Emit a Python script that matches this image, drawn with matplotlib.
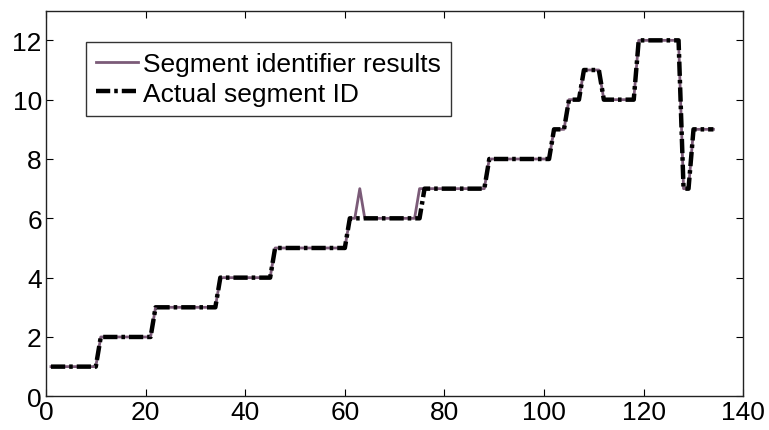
import numpy as np
import matplotlib
matplotlib.use('Agg')
import matplotlib.pyplot as plt

plt.rcParams['font.family'] = ['Liberation Sans', 'DejaVu Sans']

# sample index and segment IDs
sample = np.arange(1, 135)
actual_id = np.array(
    [1] * 10 + [2] * 11 + [3] * 13 + [4] * 11 + [5] * 15 + [6] * 15 +
    [7] * 13 + [8] * 13 + [9] * 3 + [10] * 3 + [11] * 4 + [10] * 7 +
    [12] * 9 + [7] * 2 + [9] * 5
)
identified_id = actual_id.copy()
identified_id[sample == 63] = 7
identified_id[sample == 75] = 7

fig = plt.figure(figsize=(7.69, 4.31), dpi=100)
ax = fig.add_axes([0.0598, 0.0782, 0.9068, 0.8947])

ax.plot(sample, identified_id, color='#7b5b78', linewidth=2.0,
        label='Segment identifier results')
ax.plot(sample, actual_id, color='black', linewidth=3.2,
        dashes=(3.2, 0.9, 0.8, 0.9), label='Actual segment ID')

ax.set_xlim(0, 140)
ax.set_ylim(0, 13)
ax.set_xticks(np.arange(0, 141, 20))
ax.set_yticks(np.arange(0, 13, 2))
ax.tick_params(direction='in', length=5, width=0.8, labelsize=19,
               top=True, right=True, pad=3)
for s in ax.spines.values():
    s.set_linewidth(1.0)
    s.set_color('#222222')

leg = ax.legend(loc='upper left', bbox_to_anchor=(0.057, 0.918),
                borderaxespad=0, fontsize=19, frameon=True, fancybox=False,
                edgecolor='black', handlelength=1.6, handletextpad=0.2,
                labelspacing=0.2, borderpad=0.38)
leg.get_frame().set_linewidth(1.0)

fig.savefig('out.png', dpi=100)
